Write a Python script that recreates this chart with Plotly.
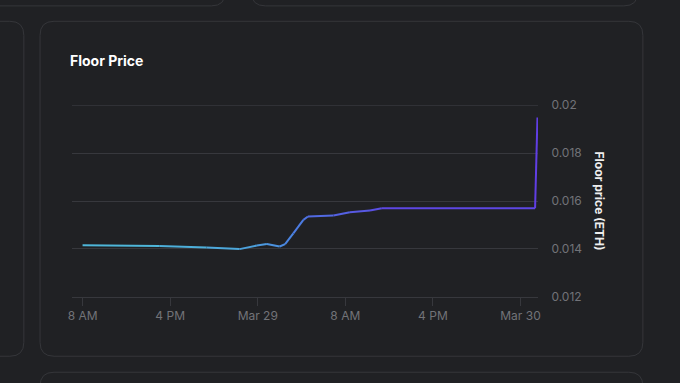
import plotly.graph_objects as go

# ---- data ----
times = [
    "2023-03-28 08:00", "2023-03-28 15:00", "2023-03-28 19:20", "2023-03-28 22:20",
    "2023-03-28 23:55", "2023-03-29 00:50", "2023-03-29 02:00", "2023-03-29 02:30",
    "2023-03-29 03:15", "2023-03-29 04:10", "2023-03-29 04:35", "2023-03-29 06:55",
    "2023-03-29 08:25", "2023-03-29 10:15", "2023-03-29 11:20", "2023-03-30 01:20",
    "2023-03-30 01:33",
]
floor_price = [
    0.01415, 0.014125, 0.014055, 0.01399,
    0.01414, 0.01420, 0.01410, 0.01420,
    0.01465, 0.01521, 0.01535, 0.01539,
    0.01553, 0.01560, 0.01570, 0.01570,
    0.01949,
]
x_tickvals = ["2023-03-28 08:00", "2023-03-28 16:00", "2023-03-29 00:00",
              "2023-03-29 08:00", "2023-03-29 16:00", "2023-03-30 00:00"]
x_ticktext = ["8 AM", "4 PM", "Mar 29", "8 AM", "4 PM", "Mar 30"]
y_tickvals = [0.012, 0.014, 0.016, 0.018, 0.02]
y_ticktext = ["0.012", "0.014", "0.016", "0.018", "0.02"]

# ---- style ----
W, H = 680, 383
BG = "#202124"
BORDER = "#35363a"
GRID = "#37383d"
TICK = "#727378"
FONT = "Inter"

L, R, T, B = 72, 538.5, 104.5, 296.7
x_range = ["2023-03-28 07:02", "2023-03-30 01:36"]
y_range = [0.01199, 0.02001]

stops = [(0.0, (78, 186, 216)), (0.5, (74, 128, 226)), (1.0, (98, 58, 228))]


def grad(f):
    for (f0, c0), (f1, c1) in zip(stops[:-1], stops[1:]):
        if f <= f1:
            t = (f - f0) / (f1 - f0) if f1 > f0 else 0
            return "rgb(%d,%d,%d)" % tuple(round(a + (b - a) * t) for a, b in zip(c0, c1))
    return "rgb(%d,%d,%d)" % stops[-1][1]


fig = go.Figure()
n = len(times)
for i in range(n - 1):
    f = (i + 0.5) / (n - 1)
    fig.add_trace(go.Scatter(
        x=[times[i], times[i + 1]], y=[floor_price[i], floor_price[i + 1]],
        mode="lines", line=dict(width=2, color=grad(f)),
        showlegend=False, hoverinfo="skip",
    ))


def px2paper(x, y):
    return (x - L) / (R - L), (B - y) / (B - T)


def rounded(x0, y0, x1, y1, r):
    def p(x, y):
        a, b = px2paper(x, y)
        return "%.5f,%.5f" % (a, b)
    path = ("M " + p(x0 + r, y0) + " L " + p(x1 - r, y0) +
            " Q " + p(x1, y0) + " " + p(x1, y0 + r) +
            " L " + p(x1, y1 - r) +
            " Q " + p(x1, y1) + " " + p(x1 - r, y1) +
            " L " + p(x0 + r, y1) +
            " Q " + p(x0, y1) + " " + p(x0, y1 - r) +
            " L " + p(x0, y0 + r) +
            " Q " + p(x0, y0) + " " + p(x0 + r, y0) + " Z")
    return dict(type="path", xref="paper", yref="paper", path=path,
                line=dict(color=BORDER, width=1), fillcolor="rgba(0,0,0,0)", layer="below")


shapes = [
    rounded(40, 20.7, 643.5, 356, 14),
    rounded(-40, 20.7, 23.8, 356, 14),
    rounded(-40, -40, 225.5, 5.3, 14),
    rounded(251.5, -40, 638.5, 5.3, 14),
    rounded(40, 372, 643.5, 430, 14),
    # top gridline (hidden by plotly at the range edge)
    dict(type="line", xref="paper", yref="y", x0=0, x1=1, y0=y_tickvals[-1], y1=y_tickvals[-1],
         line=dict(color=GRID, width=1), layer="below"),
]

fig.update_layout(
    width=W, height=H,
    margin=dict(l=L, r=W - R, t=T, b=H - B, pad=0),
    paper_bgcolor=BG, plot_bgcolor=BG,
    font=dict(family=FONT, color=TICK, size=12),
    shapes=shapes,
    showlegend=False,
    xaxis=dict(
        type="date", range=x_range, tickvals=x_tickvals, ticktext=x_ticktext,
        showgrid=False, zeroline=False, showline=True, linecolor=GRID, linewidth=1,
        ticks="outside", ticklen=8, tickcolor=GRID, tickwidth=1,
        tickfont=dict(family=FONT, size=12, color=TICK),
    ),
    yaxis=dict(
        side="right", range=y_range, tickvals=y_tickvals, ticktext=y_ticktext,
        showgrid=True, gridcolor=GRID, gridwidth=1, zeroline=False, showline=False,
        ticks="outside", ticklen=10, tickcolor="rgba(0,0,0,0)",
        tickfont=dict(family=FONT, size=12, color=TICK),
    ),
    annotations=[
        dict(text="<b>Floor Price</b>", xref="paper", yref="paper",
             x=px2paper(68, 60)[0], y=px2paper(68, 60)[1], xanchor="left", yanchor="middle",
             showarrow=False, font=dict(family=FONT, size=14, color="#ffffff")),
        dict(text="<b>Floor price (ETH)</b>", xref="paper", yref="paper",
             x=px2paper(601, 200)[0], y=0.5, xanchor="center", yanchor="middle",
             textangle=90, showarrow=False,
             font=dict(family=FONT, size=12, color="#eeeeee")),
    ],
)

fig.write_html(
    "out.html",
    config={"displayModeBar": False},
    post_script="document.body.style.margin='0';document.body.style.background='%s';"
                "document.documentElement.style.background='%s';" % (BG, BG),
)
